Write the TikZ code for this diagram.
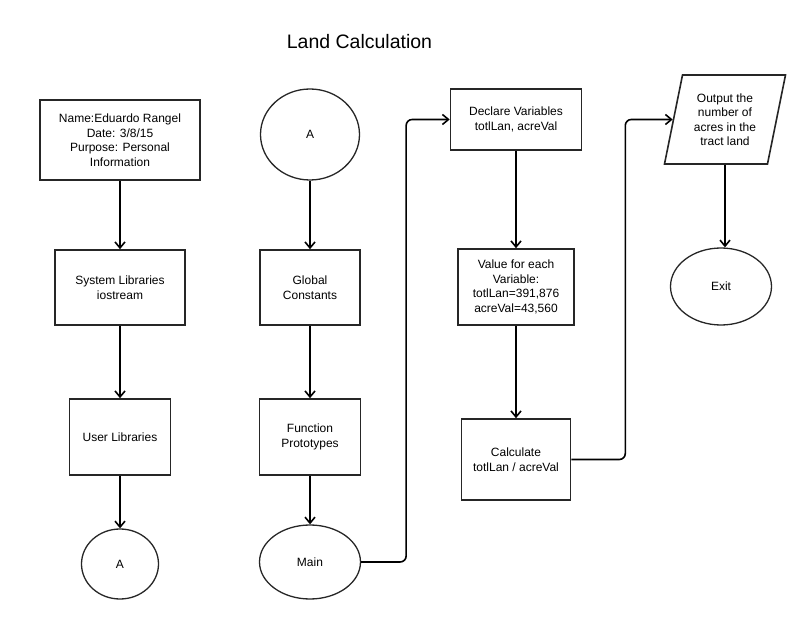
\documentclass[tikz,border=0pt]{standalone}
\usepackage{fontspec}
\setmainfont{Liberation Sans}
\usetikzlibrary{shapes,arrows,positioning,calc,arrows.meta}

\begin{document}
\begin{tikzpicture}[x=1pt, y=-1pt,
        font=\fontsize{12}{14.5}\selectfont,
        process/.style={draw=black!85, line width=1.6pt, align=center, inner sep=2pt},
        terminal/.style={draw=black!85, ellipse, line width=1.3pt, align=center, inner sep=0pt},
        io/.style={draw=black!85, trapezium, trapezium left angle=71, trapezium right angle=109,
            trapezium stretches body, line width=1.6pt, align=center, inner sep=0pt},
        flow/.style={line width=1.6pt, -{Straight Barb[length=6pt,width=10pt]}},
        loop/.style={flow, rounded corners=6pt}]
        \useasboundingbox (0,0) rectangle (796,620);

        % Title
        \node (title) at (359.5,42) {\fontsize{19.5}{23}\selectfont Land Calculation};

        % First column
        \node[process, minimum width=160pt, minimum height=80pt] (header) at (120,140)
            {Name:Eduardo Rangel\\Date: 3/8/15\\Purpose: Personal\\Information};
        \node[process, minimum width=130pt, minimum height=75pt] (syslib) at (120,287.5)
            {System Libraries\\iostream};
        \node[process, minimum width=101pt, minimum height=76pt] (usrlib) at (120,437)
            {User Libraries};
        \node[terminal, minimum width=77pt, minimum height=70pt] (connA) at (120,564) {A};

        % Second column
        \node[terminal, minimum width=99pt, minimum height=91pt] (startA) at (310,134.5) {A};
        \node[process, minimum width=100pt, minimum height=75pt] (glob) at (310,287.5)
            {Global\\Constants};
        \node[process, minimum width=101pt, minimum height=76pt] (proto) at (310,437)
            {Function\\Prototypes};
        \node[terminal, minimum width=101pt, minimum height=74pt] (main) at (310,562) {Main};

        % Third column
        \node[process, minimum width=131pt, minimum height=61pt] (decl) at (516,119.5)
            {Declare Variables\\totlLan, acreVal};
        \node[process, minimum width=116pt, minimum height=76pt] (val) at (516,287)
            {Value for each\\Variable:\\totlLan=391,876\\acreVal=43,560};
        \node[process, minimum width=109pt, minimum height=81pt] (calc) at (516,459.5)
            {Calculate\\totlLan / acreVal};

        % Fourth column
        \node[io, minimum width=121pt, minimum height=89pt] (out) at (725,119.5)
            {Output the\\number of\\acres in the\\tract land};
        \node[terminal, minimum width=101pt, minimum height=77pt] (exit) at (721,286.5) {Exit};

        % Connectors
        \draw[flow] (header) -- (syslib);
        \draw[flow] (syslib) -- (usrlib);
        \draw[flow] (usrlib) -- (connA);
        \draw[flow] (startA) -- (glob);
        \draw[flow] (glob) -- (proto);
        \draw[flow] (proto) -- (main);
        \draw[loop] (main.east) -- ++(45,0) |- (decl.west);
        \draw[flow] (decl) -- (val);
        \draw[flow] (val) -- (calc);
        \draw[loop] (calc.east) -- ++(54,0) |- (out.left side);
        \draw[flow] (out.south) -- (out.south |- exit.north);
    \end{tikzpicture}
\end{document}
